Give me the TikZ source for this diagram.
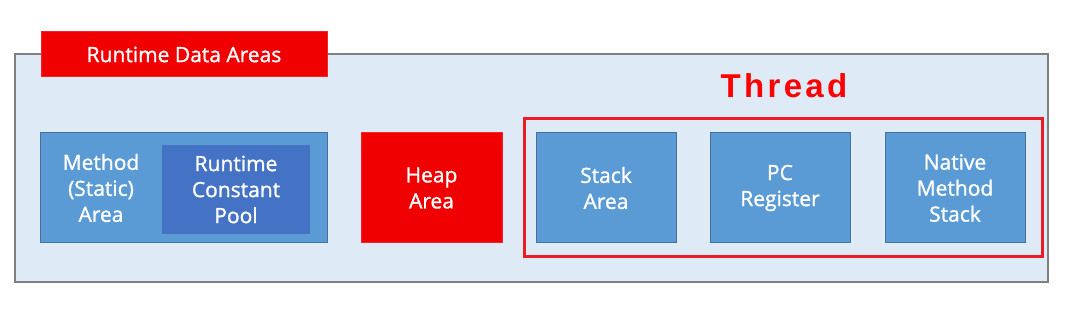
\documentclass[tikz,border=0pt]{standalone}
\usepackage{fontspec}
\setmainfont{Open Sans}
\newfontfamily\lblfont[FakeBold=1.2]{Open Sans}
\newfontfamily\threadfont[LetterSpace=10]{Liberation Sans}
\definecolor{bgblue}{RGB}{222,234,246}
\definecolor{outerline}{RGB}{128,128,128}
\definecolor{boxblue}{RGB}{91,155,213}
\definecolor{boxline}{RGB}{65,113,156}
\definecolor{poolblue}{RGB}{68,114,196}
\definecolor{redfill}{RGB}{240,0,0}
\definecolor{threadred}{RGB}{237,28,36}
\tikzset{
  lbl/.style={text=white, align=center, font=\lblfont\fontsize{21}{26}\selectfont},
  bluebox/.style={rectangle, draw=boxline, fill=boxblue, line width=1pt, minimum width=140pt, minimum height=110pt, inner sep=0pt, lbl},
  redbox/.style={rectangle, draw=redfill!85!white, fill=redfill, line width=1pt, inner sep=0pt, lbl},
}
\begin{document}
\begin{tikzpicture}[x=1pt,y=-1pt]
\useasboundingbox (0,0) rectangle (1074,312);
% outer area
\draw[draw=outerline, fill=bgblue, line width=1.2pt] (15,54) rectangle (1048,282);
% title
\node[redbox, minimum width=286pt, minimum height=45pt] (title) at (184,54.5) {Runtime Data Areas};
% method area
\node[bluebox, minimum width=287pt] (method) at (183.5,188) {};
\node[rectangle, fill=poolblue, minimum width=148pt, minimum height=89pt, inner sep=0pt, lbl] (pool) at (236,189.5) {Runtime\\Constant\\Pool};
\node[lbl] (methodtxt) at (101,188) {Method\\(Static)\\Area};
% heap
\node[redbox, minimum width=141pt, minimum height=110pt] (heap) at (431.5,188) {Heap\\Area};
% thread
\node[rectangle, draw=threadred, line width=3pt, minimum width=518pt, minimum height=138pt, inner sep=0pt] (thread) at (783,188) {};
\node[text=red, font=\threadfont\bfseries\fontsize{33}{33}\selectfont] (threadtxt) at (784,86) {Thread};
\node[bluebox] (stack) at (606,188) {Stack\\Area};
\node[bluebox] (pc) at (780,188) {PC\\Register};
\node[bluebox] (native) at (955,188) {Native\\Method\\Stack};
\end{tikzpicture}
\end{document}
